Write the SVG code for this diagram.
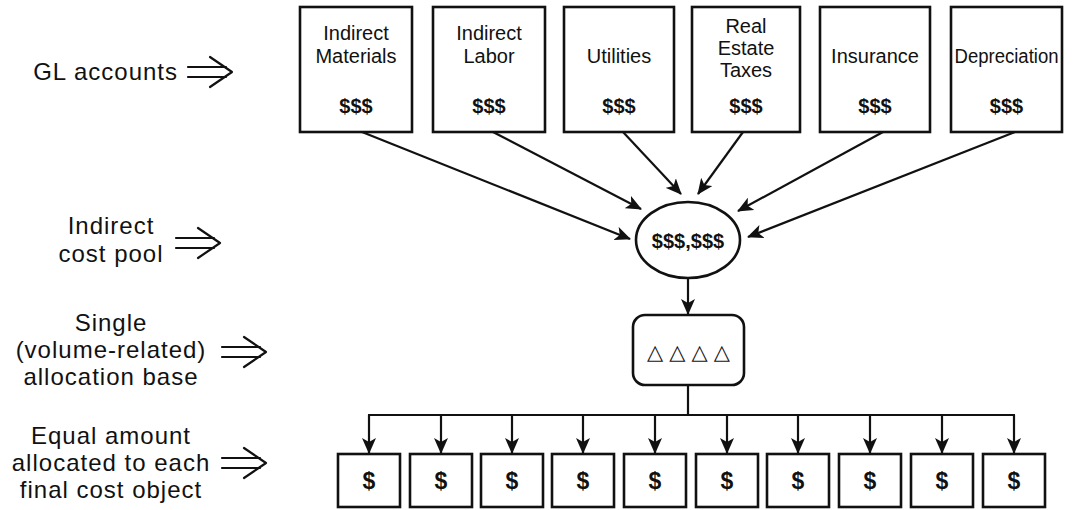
<svg xmlns="http://www.w3.org/2000/svg" width="1080" height="510" viewBox="0 0 1080 510">
  <style>
    .box { fill: #fff; stroke: #111; stroke-width: 2.6; }
    .lbl { font-family: "Liberation Sans", Arial, sans-serif; font-size: 24px; letter-spacing: 1px; fill: #111; text-anchor: middle; }
    .bt { font-family: "Liberation Sans", Arial, sans-serif; font-size: 20px; fill: #111; text-anchor: middle; }
    .money { font-family: "Liberation Sans", Arial, sans-serif; font-size: 20px; font-weight: bold; fill: #111; text-anchor: middle; }
    .dollar { font-family: "Liberation Sans", Arial, sans-serif; font-size: 23px; font-weight: bold; fill: #111; text-anchor: middle; }
    .conn { fill: none; stroke: #111; stroke-width: 2.2; }
    .dbl { fill: none; stroke: #111; stroke-width: 2.2; stroke-linecap: round; stroke-linejoin: round; }
  </style>
  <defs>
    <marker id="ah" markerUnits="userSpaceOnUse" viewBox="0 0 16 14" markerWidth="16" markerHeight="14" refX="15" refY="7" orient="auto">
      <path d="M0,0 L16,7 L0,14 L4,7 z" fill="#111"/>
    </marker>
    <g id="dblarrow">
      <path class="dbl" d="M0,-5 H38 M0,5 H38 M22,-15 L44,0 L22,15"/>
    </g>
  </defs>
  <rect width="1080" height="510" fill="#fff"/>

  <g id="left-labels">
    <g id="lbl-gl">
      <text class="lbl" x="178" y="80" style="text-anchor:end">GL accounts</text>
      <use href="#dblarrow" x="188" y="72"/>
    </g>
    <g id="lbl-pool">
      <text class="lbl" x="111" y="234">Indirect</text>
      <text class="lbl" x="111" y="262">cost pool</text>
      <use href="#dblarrow" x="176" y="243"/>
    </g>
    <g id="lbl-base">
      <text class="lbl" x="111" y="331">Single</text>
      <text class="lbl" x="111" y="358">(volume-related)</text>
      <text class="lbl" x="111" y="385">allocation base</text>
      <use href="#dblarrow" x="222" y="352"/>
    </g>
    <g id="lbl-equal">
      <text class="lbl" x="111" y="444">Equal amount</text>
      <text class="lbl" x="111" y="471">allocated to each</text>
      <text class="lbl" x="111" y="498">final cost object</text>
      <use href="#dblarrow" x="222" y="463"/>
    </g>
  </g>

  <g id="gl-indirect-materials">
    <rect class="box" x="300" y="7" width="112" height="125"/>
    <text class="bt" x="356" y="40">Indirect</text>
    <text class="bt" x="356" y="63">Materials</text>
    <text class="money" x="356" y="113">$$$</text>
  </g>
  <g id="gl-indirect-labor">
    <rect class="box" x="433" y="7" width="112" height="125"/>
    <text class="bt" x="489" y="40">Indirect</text>
    <text class="bt" x="489" y="63">Labor</text>
    <text class="money" x="489" y="113">$$$</text>
  </g>
  <g id="gl-utilities">
    <rect class="box" x="564" y="7" width="110" height="125"/>
    <text class="bt" x="619" y="63">Utilities</text>
    <text class="money" x="619" y="113">$$$</text>
  </g>
  <g id="gl-real-estate-taxes">
    <rect class="box" x="692" y="7" width="108" height="125"/>
    <text class="bt" x="746" y="33">Real</text>
    <text class="bt" x="746" y="55">Estate</text>
    <text class="bt" x="746" y="77">Taxes</text>
    <text class="money" x="746" y="113">$$$</text>
  </g>
  <g id="gl-insurance">
    <rect class="box" x="820" y="7" width="110" height="125"/>
    <text class="bt" x="875" y="63">Insurance</text>
    <text class="money" x="875" y="113">$$$</text>
  </g>
  <g id="gl-depreciation">
    <rect class="box" x="951" y="7" width="111" height="125"/>
    <text class="bt" x="1006.5" y="63" textLength="104" lengthAdjust="spacingAndGlyphs">Depreciation</text>
    <text class="money" x="1006.5" y="113">$$$</text>
  </g>

  <g id="cost-pool">
    <ellipse class="box" cx="688" cy="240" rx="52" ry="38"/>
    <text class="money" x="688" y="248">$$$,$$$</text>
  </g>

  <g id="allocation-base">
    <rect class="box" x="633" y="315" width="111" height="70" rx="12" ry="12"/>
    <text x="688.5" y="359" font-family="DejaVu Sans, sans-serif" font-size="21" fill="#111" text-anchor="middle" textLength="83" lengthAdjust="spacing">△△△△</text>
  </g>

  <g id="cost-objects">
    <g id="obj1"><rect class="box" x="338" y="454" width="62" height="53"/><text class="dollar" x="369" y="489">$</text></g>
    <g id="obj2"><rect class="box" x="410" y="454" width="62" height="53"/><text class="dollar" x="441" y="489">$</text></g>
    <g id="obj3"><rect class="box" x="481" y="454" width="62" height="53"/><text class="dollar" x="512" y="489">$</text></g>
    <g id="obj4"><rect class="box" x="552" y="454" width="62" height="53"/><text class="dollar" x="583" y="489">$</text></g>
    <g id="obj5"><rect class="box" x="624" y="454" width="62" height="53"/><text class="dollar" x="655" y="489">$</text></g>
    <g id="obj6"><rect class="box" x="696" y="454" width="62" height="53"/><text class="dollar" x="727" y="489">$</text></g>
    <g id="obj7"><rect class="box" x="767" y="454" width="62" height="53"/><text class="dollar" x="798" y="489">$</text></g>
    <g id="obj8"><rect class="box" x="839" y="454" width="62" height="53"/><text class="dollar" x="870" y="489">$</text></g>
    <g id="obj9"><rect class="box" x="911" y="454" width="62" height="53"/><text class="dollar" x="942" y="489">$</text></g>
    <g id="obj10"><rect class="box" x="983" y="454" width="62" height="53"/><text class="dollar" x="1014" y="489">$</text></g>
  </g>

  <g id="connectors">
    <line class="conn" x1="362" y1="132" x2="630" y2="239" marker-end="url(#ah)"/>
    <line class="conn" x1="493" y1="132" x2="641" y2="209" marker-end="url(#ah)"/>
    <line class="conn" x1="623" y1="132" x2="681" y2="194" marker-end="url(#ah)"/>
    <line class="conn" x1="743" y1="132" x2="698" y2="194" marker-end="url(#ah)"/>
    <line class="conn" x1="883" y1="132" x2="738" y2="211" marker-end="url(#ah)"/>
    <line class="conn" x1="1015" y1="132" x2="748" y2="237" marker-end="url(#ah)"/>
    <line class="conn" x1="688" y1="278" x2="688" y2="314" marker-end="url(#ah)"/>
    <line class="conn" x1="688" y1="385" x2="688" y2="415"/>
    <line class="conn" x1="368" y1="415" x2="1015" y2="415"/>
    <line class="conn" x1="369" y1="415" x2="369" y2="453" marker-end="url(#ah)"/>
    <line class="conn" x1="441" y1="415" x2="441" y2="453" marker-end="url(#ah)"/>
    <line class="conn" x1="512" y1="415" x2="512" y2="453" marker-end="url(#ah)"/>
    <line class="conn" x1="583" y1="415" x2="583" y2="453" marker-end="url(#ah)"/>
    <line class="conn" x1="655" y1="415" x2="655" y2="453" marker-end="url(#ah)"/>
    <line class="conn" x1="727" y1="415" x2="727" y2="453" marker-end="url(#ah)"/>
    <line class="conn" x1="798" y1="415" x2="798" y2="453" marker-end="url(#ah)"/>
    <line class="conn" x1="870" y1="415" x2="870" y2="453" marker-end="url(#ah)"/>
    <line class="conn" x1="942" y1="415" x2="942" y2="453" marker-end="url(#ah)"/>
    <line class="conn" x1="1014" y1="415" x2="1014" y2="453" marker-end="url(#ah)"/>
  </g>
</svg>
